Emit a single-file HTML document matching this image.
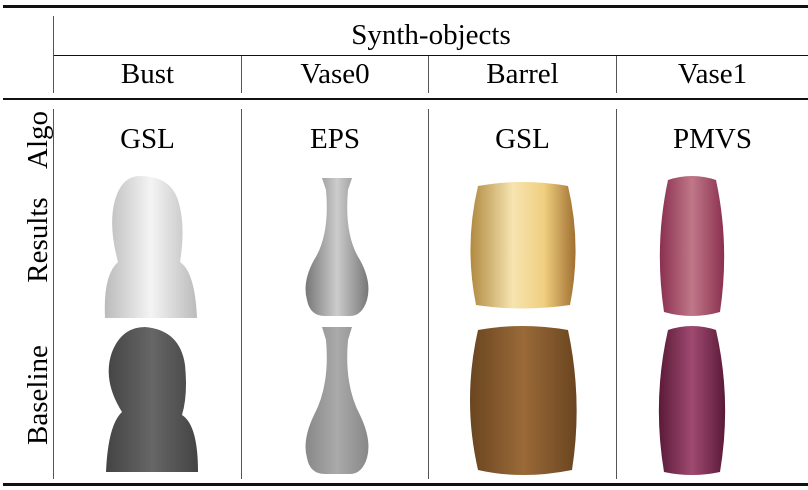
<!DOCTYPE html>
<html><head><meta charset="utf-8"><style>
body{margin:0;background:#fff;}
#t{position:relative;width:808px;height:490px;overflow:hidden;font-family:"Liberation Serif",serif;color:#000;}
.l{position:absolute;background:#111;}
.tx{position:absolute;font-size:29px;text-align:center;line-height:30px;}
.rot{position:absolute;font-size:29px;transform:rotate(-90deg);white-space:nowrap;line-height:30px;}
svg{position:absolute;left:0;top:0;}
</style></head><body>
<div id="t">
<div class="l" style="left:3px;top:5px;width:805px;height:3px"></div>
<div class="l" style="left:53px;top:55px;width:755px;height:1px"></div>
<div class="l" style="left:3px;top:98px;width:805px;height:2px"></div>
<div class="l" style="left:3px;top:483px;width:805px;height:3px"></div>
<div class="l" style="left:53px;top:16px;width:1px;height:77px;background:#555"></div>
<div class="l" style="left:53px;top:109px;width:1px;height:370px;background:#555"></div>
<div class="l" style="left:241px;top:56px;width:1px;height:37px;background:#555"></div>
<div class="l" style="left:428px;top:56px;width:1px;height:37px;background:#555"></div>
<div class="l" style="left:616px;top:56px;width:1px;height:37px;background:#555"></div>
<div class="l" style="left:241px;top:109px;width:1px;height:370px;background:#555"></div>
<div class="l" style="left:428px;top:109px;width:1px;height:370px;background:#555"></div>
<div class="l" style="left:616px;top:109px;width:1px;height:370px;background:#555"></div>

<div class="tx" style="left:54px;top:20px;width:754px">Synth-objects</div>
<div class="tx" style="left:54px;top:59px;width:187px">Bust</div>
<div class="tx" style="left:242px;top:59px;width:186px">Vase0</div>
<div class="tx" style="left:429px;top:59px;width:187px">Barrel</div>
<div class="tx" style="left:617px;top:59px;width:191px">Vase1</div>
<div class="tx" style="left:54px;top:124px;width:187px">GSL</div>
<div class="tx" style="left:242px;top:124px;width:186px">EPS</div>
<div class="tx" style="left:429px;top:124px;width:187px">GSL</div>
<div class="tx" style="left:617px;top:124px;width:191px">PMVS</div>
<div class="rot" style="left:6px;top:125px;width:64px;text-align:center">Algo</div>
<div class="rot" style="left:-16px;top:225px;width:108px;text-align:center">Results</div>
<div class="rot" style="left:-22px;top:380px;width:120px;text-align:center">Baseline</div>

<svg width="808" height="490">
<defs>
<linearGradient id="g1" x1="0" x2="1"><stop offset="0" stop-color="#bbb"/><stop offset=".5" stop-color="#f4f4f4"/><stop offset="1" stop-color="#bbb"/></linearGradient>
<linearGradient id="g2" x1="0" x2="1"><stop offset="0" stop-color="#444"/><stop offset=".5" stop-color="#666"/><stop offset="1" stop-color="#444"/></linearGradient>
<linearGradient id="g3" x1="0" x2="1"><stop offset="0" stop-color="#777"/><stop offset=".5" stop-color="#ccc"/><stop offset="1" stop-color="#777"/></linearGradient>
<linearGradient id="g4" x1="0" x2="1"><stop offset="0" stop-color="#888"/><stop offset=".5" stop-color="#aaa"/><stop offset="1" stop-color="#888"/></linearGradient>
<linearGradient id="g5" x1="0" x2="1"><stop offset="0" stop-color="#b08a40"/><stop offset=".4" stop-color="#f6e4b0"/><stop offset=".7" stop-color="#f0cf80"/><stop offset="1" stop-color="#a07030"/></linearGradient>
<linearGradient id="g6" x1="0" x2="1"><stop offset="0" stop-color="#6a4520"/><stop offset=".5" stop-color="#9a6a38"/><stop offset="1" stop-color="#6a4520"/></linearGradient>
<linearGradient id="g7" x1="0" x2="1"><stop offset="0" stop-color="#8a3050"/><stop offset=".5" stop-color="#c07888"/><stop offset="1" stop-color="#8a3050"/></linearGradient>
<linearGradient id="g8" x1="0" x2="1"><stop offset="0" stop-color="#5a1a38"/><stop offset=".5" stop-color="#a04a70"/><stop offset="1" stop-color="#5a1a38"/></linearGradient>
</defs>
<g><path d="M140 176 Q170 176 178 200 Q186 225 180 262 Q195 272 197 318 L105 318 Q103 275 118 262 Q108 225 115 200 Q122 176 140 176Z" fill="url(#g1)"/></g>
<g><path d="M145 327 Q180 330 185 365 Q188 395 182 415 Q198 425 198 472 L106 472 Q108 425 122 412 Q102 380 112 352 Q122 327 145 327Z" fill="url(#g2)"/></g>
<g><path d="M322 178 L352 178 L348 190 Q344 235 360 260 Q372 282 367 300 Q362 316 350 316 L325 316 Q310 316 307 300 Q302 282 314 260 Q330 235 326 190Z" fill="url(#g3)"/></g>
<g><path d="M322 327 L352 327 L348 340 Q344 385 360 415 Q372 440 367 458 Q362 474 350 474 L325 474 Q310 474 307 458 Q302 440 314 415 Q330 385 326 340Z" fill="url(#g4)"/></g>
<g><path d="M478 186 Q522 178 568 186 Q582 245 570 305 Q522 312 476 305 Q464 245 478 186Z" fill="url(#g5)"/></g>
<g><path d="M478 330 Q522 322 568 330 Q583 400 572 470 Q522 480 478 470 Q462 400 478 330Z" fill="url(#g6)"/></g>
<g><path d="M668 180 Q692 172 716 180 Q730 245 720 312 Q692 320 664 312 Q654 245 668 180Z" fill="url(#g7)"/></g>
<g><path d="M668 330 Q692 322 716 330 Q732 400 720 472 Q692 478 664 472 Q652 400 668 330Z" fill="url(#g8)"/></g>
</svg>
</div>
</body></html>
